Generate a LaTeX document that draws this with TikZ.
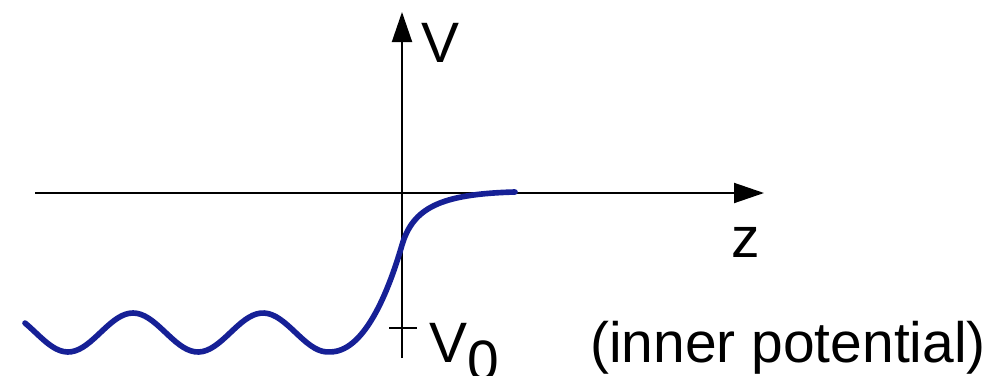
\documentclass[tikz,border=0pt]{standalone}
\usepackage{fontspec}
\setmainfont{Liberation Sans}
\usetikzlibrary{arrows.meta}
\definecolor{curveblue}{RGB}{22,32,150}
\tikzset{
    axis/.style={line width=1.4pt, -{Triangle[length=0.75cm,width=0.5cm]}},
    lbl/.style={inner sep=0pt, font=\fontsize{40.5}{48}\selectfont},
}
\begin{document}
\begin{tikzpicture}[x=0.025cm, y=-0.025cm]
    \useasboundingbox (0,0) rectangle (1004,375);

    % axes
    \coordinate (zmin) at (35,193);
    \coordinate (zmax) at (764,193);
    \coordinate (vmin) at (402,358);
    \coordinate (vmax) at (402,12);
    \draw[axis] (zmin) -- (zmax);
    \draw[axis] (vmin) -- (vmax);

    % tick for V0
    \coordinate (tickl) at (389,328);
    \coordinate (tickr) at (417,328);
    \draw[line width=1.4pt] (tickl) -- (tickr);

    \node[lbl, anchor=base west] (vlabel) at (421,62) {V};
    \node[lbl, anchor=base] (zlabel) at (746,257) {z};
    \node[lbl, anchor=base west] (vzero) at (429,362) {V\raisebox{-0.45cm}{0}};
    \node[lbl, anchor=base west] (inner) at (590,362) {(inner potential)};

    % potential: oscillating bulk, step up at the surface
    \draw[curveblue, line width=4pt, line cap=round, line join=round]
        plot[domain=25:330, samples=80] (\x,{332.5-19.5*cos(2.769*(\x-133))})
        .. controls (362,352) and (386,300) .. (402,245)
        .. controls (413,208) and (440,194) .. (515,192);

\end{tikzpicture}
\end{document}
